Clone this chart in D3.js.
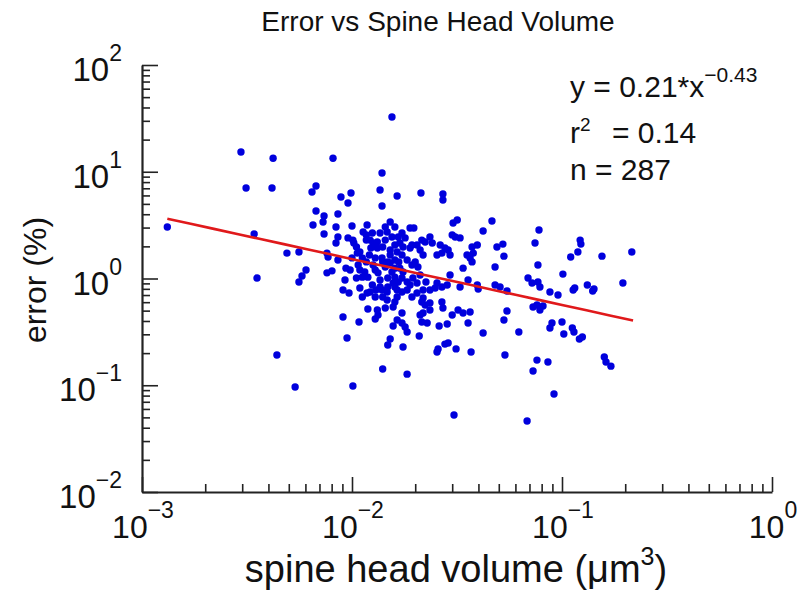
<!DOCTYPE html>
<html><head><meta charset="utf-8">
<script src="https://cdn.jsdelivr.net/npm/d3@7"></script>
<style>
body{margin:0;background:#fff}
svg{display:block}
text{font-family:"Liberation Sans",Arial,Helvetica,sans-serif;fill:#111}
</style>
</head><body>
<svg id="chart" width="797" height="601"></svg>
<script>
// ---- data ----
const volume = [0.00132,0.00296,0.00313,0.00421,0.00416,0.00342,0.00353,0.00439,0.00536,0.0049,
0.00559,0.00559,0.00578,0.00604,0.00674,0.00645,0.00812,0.00886,0.00989,0.00957,
0.00674,0.00736,0.00728,0.00652,0.00736,0.00857,0.00839,0.00857,0.00839,0.0076,
0.00769,0.00857,0.0076,0.00803,0.00926,0.00906,0.00968,0.00906,0.00947,0.0101,
0.00957,0.0101,0.0102,0.0100,0.0113,0.0117,0.0118,0.0109,0.0106,0.0122,
0.0126,0.0132,0.0136,0.0144,0.0152,0.0147,0.0155,0.0140,0.0152,0.0160,
0.0100,0.00936,0.0098,0.0107,0.0109,0.0115,0.0112,0.0119,0.0126,0.0129,
0.0133,0.0136,0.0144,0.0152,0.0155,0.0148,0.0157,0.0160,0.0125,0.0130,
0.0139,0.0122,0.0109,0.0118,0.0112,0.0147,0.0164,0.0136,0.0139,0.0164,
0.0155,0.0139,0.0117,0.0213,0.0271,0.0271,0.0125,0.0132,0.0160,0.0144,
0.0166,0.0173,0.0189,0.0197,0.0169,0.0175,0.0189,0.0193,0.0164,0.0173,
0.0183,0.0160,0.0152,0.0215,0.0223,0.0235,0.0241,0.0211,0.0218,0.0263,
0.0277,0.0287,0.0293,0.0268,0.0254,0.0303,0.0317,0.0300,0.0310,0.0327,
0.0353,0.0365,0.0378,0.0373,0.0395,0.0338,0.0293,0.0169,0.0175,0.0173,
0.0183,0.0195,0.0206,0.0211,0.0254,0.0268,0.0284,0.0235,0.0249,0.0327,
0.0357,0.0395,0.0136,0.0160,0.0173,0.0183,0.0204,0.0218,0.0129,0.0140,
0.0164,0.0193,0.0218,0.0147,0.0144,0.0132,0.0133,0.0129,0.0160,0.0157,
0.0173,0.0164,0.0157,0.0173,0.0179,0.0183,0.0215,0.0223,0.0235,0.0235,
0.0218,0.0211,0.0215,0.0228,0.0268,0.0271,0.0300,0.0260,0.0284,0.0320,
0.0338,0.0365,0.0357,0.0421,0.0547,0.0529,0.0623,0.0728,0.0760,0.0785,
0.0812,0.0896,0.0876,0.100,0.102,0.112,0.114,0.121,0.125,0.0209,
0.0152,0.0148,0.0175,0.0254,0.0257,0.0277,0.0287,0.0313,0.0369,0.0535,
0.0760,0.0728,0.0857,0.159,0.162,0.171,0.0140,0.0183,0.0916,0.0306,
0.0682,0.0876,0.0957,0.113,0.140,0.0119,0.0108,0.0464,0.0421,0.0777,
0.0744,0.0768,0.0490,0.0523,0.0529,0.0480,0.122,0.123,0.119,0.110,
0.155,0.215,0.101,0.0689,0.0720,0.0768,0.0785,0.115,0.132,0.142,
0.195,0.0480,0.0507,0.0547,0.0399,0.0373,0.0204,0.0105,0.0112,0.0121,
0.0129,0.0139,0.0148,0.0166,0.0189,0.0200,0.0193,0.0160,0.0225,0.0105,
0.0123,0.0179,0.0204,0.0140,0.0117,0.0148,0.0167];

const errorPct = [3.04,15.3,7.04,13.4,7.04,2.61,1.01,0.192,0.0963,1.73,
1.77,0.927,1.055,1.20,7.36,6.46,13.4,5.80,6.32,5.10,
4.29,3.85,3.38,3.17,2.61,4.02,3.04,2.45,2.15,1.73,
1.59,1.49,1.13,1.18,0.968,0.780,0.731,0.436,0.277,0.0984,
2.40,2.29,2.15,3.10,2.73,2.56,3.17,1.77,1.73,2.29,
2.15,2.20,2.67,3.04,3.38,2.73,2.45,1.97,1.85,2.06,
1.56,1.25,1.20,1.34,1.20,1.15,1.03,1.03,1.34,1.20,
1.13,0.968,1.28,1.40,1.15,1.01,0.907,1.03,0.869,0.780,
0.780,0.747,0.815,0.731,0.671,0.747,0.780,6.75,4.78,5.93,
32.6,9.73,2.29,6.32,6.19,5.44,2.67,1.93,3.04,2.29,
2.45,2.67,2.97,2.97,2.15,1.97,1.93,2.06,1.77,1.66,
1.49,1.49,1.66,2.29,2.20,2.45,2.15,1.85,1.66,2.06,
1.93,1.85,1.66,1.73,1.66,3.31,3.53,2.56,2.45,2.40,
1.66,1.56,1.73,1.97,2.06,1.25,1.08,1.25,1.15,1.01,
0.927,1.01,1.28,1.08,0.907,0.832,0.869,0.780,0.815,0.832,
0.968,0.869,0.832,0.832,0.747,0.780,0.731,0.780,0.671,0.671,
0.671,0.671,0.657,0.629,0.529,0.507,0.455,0.417,0.602,0.541,
0.475,0.409,0.359,0.383,0.351,0.315,0.602,0.565,0.589,0.507,
0.475,0.455,0.391,0.383,0.602,0.529,0.455,0.359,0.375,0.507,
0.475,0.486,0.383,0.309,0.496,0.409,0.315,0.541,0.565,0.507,
0.553,0.383,0.344,0.391,0.302,0.344,0.315,0.271,0.283,0.289,
0.271,0.238,0.228,0.205,0.219,0.243,0.249,0.219,0.205,0.192,
0.172,0.136,0.165,0.184,0.165,0.151,0.142,0.127,0.0828,0.0526,
0.0463,0.747,0.701,0.780,0.764,0.518,0.391,3.46,2.79,2.85,
2.15,1.34,1.97,2.10,1.62,1.28,2.29,2.10,1.77,1.59,
1.62,1.77,1.10,1.01,0.907,0.927,0.832,0.815,0.869,0.797,
0.907,0.869,0.832,0.764,0.797,1.43,0.907,1.97,1.56,1.66,
1.56,1.56,0.832,0.927,0.869,1.43,1.34,1.25,0.927,1.01,
1.93,2.40,2.06,1.43,1.43,1.43,1.43];

const fitCoef = 0.21, fitExp = -0.43;          // y = 0.21*x^-0.43
const fitXRange = [0.00132, 0.218];
const xTickExps = [-3, -2, -1, 0];
const yTickExps = [-2, -1, 0, 1, 2];
const titleText = "Error vs Spine Head Volume";
const xTitle = "spine head volume (\u03bcm";
const yTitle = "error (%)";
const statsR2 = "0.14", statsN = "287";

// ---- layout ----
const svg = d3.select("#chart");
const L = 142, R = 772, T = 65, B = 492;
const x = d3.scaleLog().domain([1e-3, 1]).range([L, R]);
const y = d3.scaleLog().domain([1e-2, 1e2]).range([B, T]);
const isMajor = v => Math.abs(Math.log10(v) - Math.round(Math.log10(v))) < 1e-6;
const MINUS = "\u2212";

// axes
const xAxis = d3.axisBottom(x).tickValues(x.ticks()).tickFormat("").tickSizeOuter(0);
const gx = svg.append("g").attr("transform", `translate(0,${B})`).call(xAxis);
gx.selectAll(".tick line").attr("y2", d => isMajor(d) ? -15 : -8);
const yAxis = d3.axisLeft(y).tickValues(y.ticks()).tickFormat("").tickSizeOuter(0);
const gy = svg.append("g").attr("transform", `translate(${L},0)`).call(yAxis);
gy.selectAll(".tick line").attr("x2", d => isMajor(d) ? 16 : 8);
[gx, gy].forEach(g => {
  g.select(".domain").attr("stroke", "#222").attr("stroke-width", 2.2);
  g.selectAll(".tick line").attr("stroke", "#222").attr("stroke-width", 1.6);
});

// tick labels: 10^n
xTickExps.forEach(e => {
  const t = svg.append("text").attr("x", x(Math.pow(10, e)) + 1).attr("y", 538)
    .attr("text-anchor", "middle").style("font-size", "32px");
  t.append("tspan").text("10");
  t.append("tspan").attr("dy", -20).style("font-size", "23px").text((e < 0 ? MINUS : "") + Math.abs(e));
});
yTickExps.forEach(e => {
  const t = svg.append("text").attr("x", 122).attr("y", y(Math.pow(10, e)) + 16)
    .attr("text-anchor", "end").style("font-size", "33px");
  t.append("tspan").text("10");
  t.append("tspan").attr("dy", -20).style("font-size", "23px").text((e < 0 ? MINUS : "") + Math.abs(e));
});

// points
svg.append("g").selectAll("circle").data(volume.map((v, i) => [v, errorPct[i]]))
  .join("circle")
  .attr("cx", d => x(d[0])).attr("cy", d => y(d[1])).attr("r", 3.7)
  .attr("fill", "#0000dd");

// fit line
const fitPts = d3.range(0, 21).map(i => {
  const lx = Math.log10(fitXRange[0]) + (Math.log10(fitXRange[1]) - Math.log10(fitXRange[0])) * i / 20;
  const xv = Math.pow(10, lx);
  return [xv, fitCoef * Math.pow(xv, fitExp)];
});
svg.append("path").datum(fitPts)
  .attr("d", d3.line().x(d => x(d[0])).y(d => y(d[1])))
  .attr("fill", "none").attr("stroke", "#e0191b").attr("stroke-width", 2.6);

// title
svg.append("text").attr("x", 438).attr("y", 31).attr("text-anchor", "middle")
  .style("font-size", "28px").text(titleText);

// x title
const xt = svg.append("text").attr("x", 456).attr("y", 582).attr("text-anchor", "middle")
  .style("font-size", "38px");
xt.append("tspan").text(xTitle);
xt.append("tspan").attr("dy", -17).style("font-size", "25px").text("3");
xt.append("tspan").attr("dy", 17).text(")");

// y title
svg.append("text").attr("transform", "translate(46,280) rotate(-90)").attr("text-anchor", "middle")
  .style("font-size", "32px").text(yTitle);

// stats
const s1 = svg.append("text").attr("x", 570).attr("y", 97).style("font-size", "30px");
s1.append("tspan").text(`y = ${fitCoef}*x`);
s1.append("tspan").attr("dy", -15).style("font-size", "21px").text(MINUS + Math.abs(fitExp));
const s2 = svg.append("text").attr("x", 570).attr("y", 143).style("font-size", "30px");
s2.append("tspan").text("r");
s2.append("tspan").attr("dy", -12).style("font-size", "19px").text("2");
s2.append("tspan").attr("x", 612).attr("dy", 12).text(`= ${statsR2}`);
svg.append("text").attr("x", 570).attr("y", 180).style("font-size", "30px").text(`n = ${statsN}`);
</script>
</body></html>
